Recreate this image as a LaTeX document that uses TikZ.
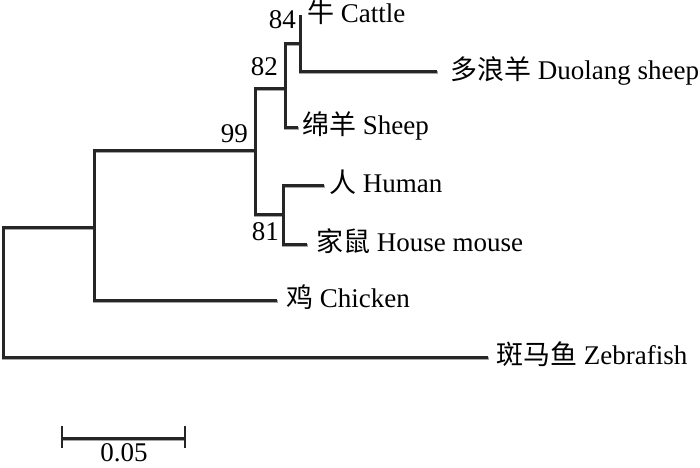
\documentclass[tikz,border=0pt]{standalone}
\usepackage{fontspec}
\setmainfont{Liberation Serif}
\newfontfamily\cjk{Noto Sans CJK SC}
\begin{document}
\begin{tikzpicture}[x=1pt,y=-1pt,
  branch/.style={draw=black!85, line width=3pt, line cap=butt,
    preaction={draw=black!35, line width=3pt, transform canvas={shift={(0.5pt,-1.2pt)}}}},
  leaf/.style={anchor=west, inner sep=0pt, font=\fontsize{27}{30}\selectfont},
  boot/.style={inner sep=0pt, font=\fontsize{27}{30}\selectfont}]
\useasboundingbox (0,0) rectangle (700,467);
% internal nodes
\coordinate (r) at (3,292);
\coordinate (A) at (94,227);
\coordinate (n99) at (255,150);
\coordinate (n82) at (285,88);
\coordinate (n84) at (300,43);
\coordinate (n81) at (283,214);
% leaves
\coordinate (zf) at (488,357);
\coordinate (chk) at (277,300);
\coordinate (shp) at (298,127);
\coordinate (cat) at (300,15);
\coordinate (duo) at (437,71);
\coordinate (hum) at (324,185);
\coordinate (mou) at (307,244);
% branches
\draw[branch] (zf) -| (r) |- (A);
\draw[branch] (chk) -| (A) |- (n99);
\draw[branch] (n81) -| (n99) |- (n82);
\draw[branch] (shp) -| (n82) |- (n84);
\draw[branch] (duo) -| (n84) -- (cat);
\draw[branch] (mou) -| (n81) |- (hum);
% leaf labels
\node[leaf] (Lcat) at ([xshift=7pt,yshift=3pt]cat) {{\cjk 牛} Cattle};
\node[leaf] (Lduo) at ([xshift=13pt,yshift=0pt]duo) {{\cjk 多浪羊} Duolang sheep};
\node[leaf] (Lshp) at ([xshift=4pt,yshift=1pt]shp) {{\cjk 绵羊} Sheep};
\node[leaf] (Lhum) at ([xshift=5pt,yshift=3pt]hum) {{\cjk 人} Human};
\node[leaf] (Lmou) at ([xshift=9pt,yshift=3pt]mou) {{\cjk 家鼠} House mouse};
\node[leaf] (Lchk) at ([xshift=9pt,yshift=3pt]chk) {{\cjk 鸡} Chicken};
\node[leaf] (Lzf) at ([xshift=8pt,yshift=3pt]zf) {{\cjk 斑马鱼} Zebrafish};
% bootstrap values
\node[boot, anchor=south east] (b99) at (248,143) {99};
\node[boot, anchor=south east] (b82) at (278,76) {82};
\node[boot, anchor=south east] (b84) at (296,29) {84};
\node[boot, anchor=north east] (b81) at (279,222) {81};
% scale bar
\coordinate (s1) at (62,438);
\coordinate (s2) at (185,438);
\draw[branch] (s1) -- (s2);
\draw[draw=black!85, line width=2.4pt] ([yshift=-10pt]s1) -- ([yshift=12pt]s1);
\draw[draw=black!85, line width=2.4pt] ([yshift=-10pt]s2) -- ([yshift=12pt]s2);
\node[boot, anchor=north] (sl) at (124,443) {0.05};
\end{tikzpicture}
\end{document}
